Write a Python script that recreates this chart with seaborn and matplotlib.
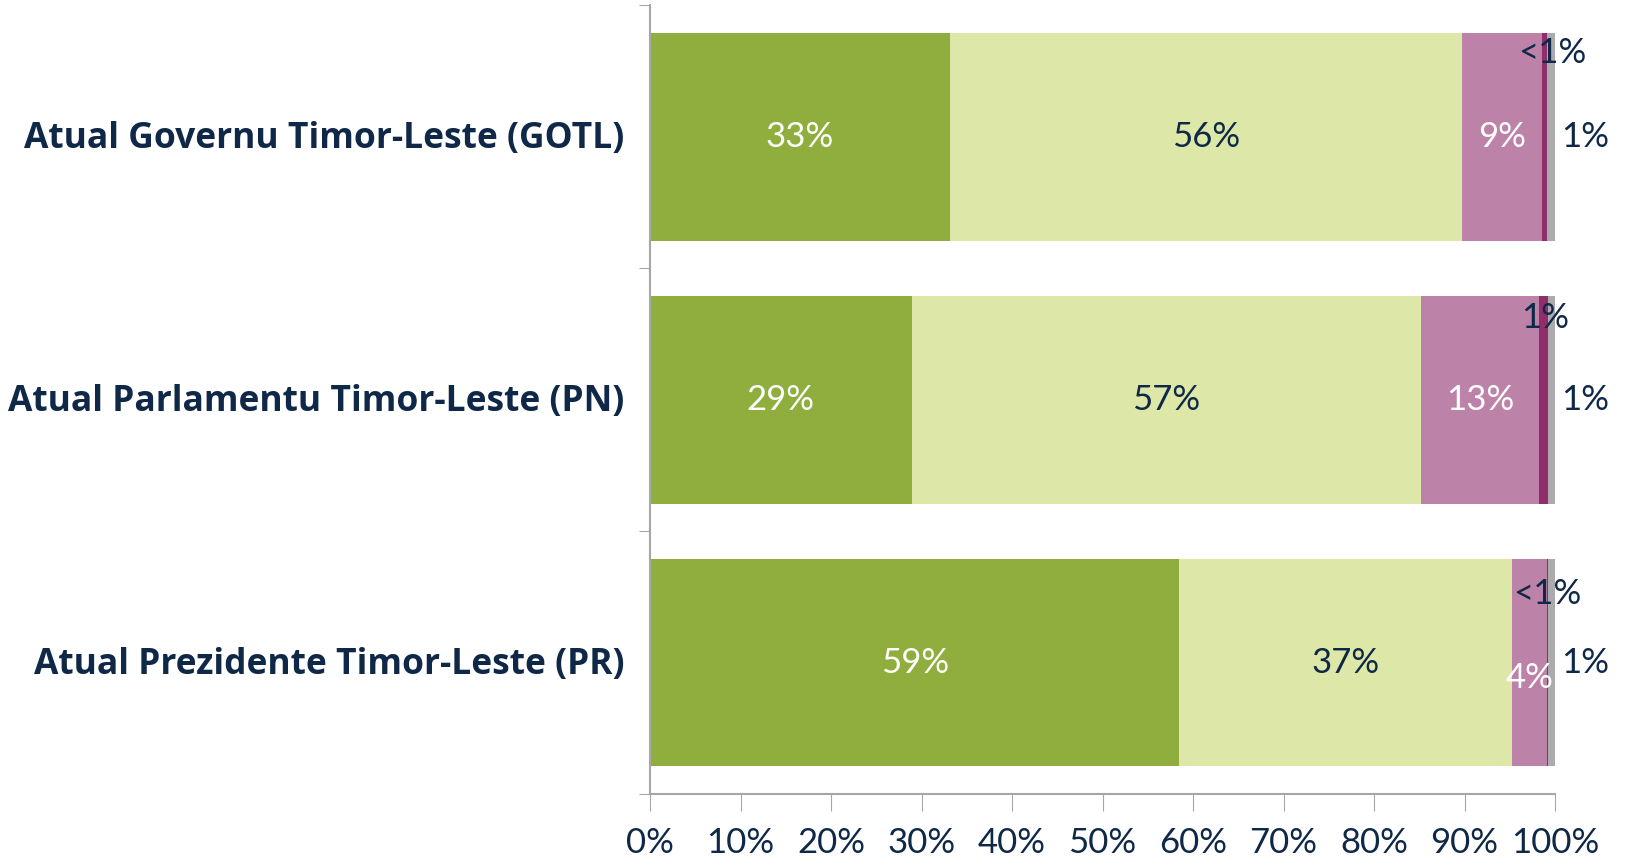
import numpy as np
import pandas as pd
import seaborn as sns
import matplotlib.pyplot as plt

# data (percent)
categories = ["Atual Governu Timor-Leste (GOTL)",
              "Atual Parlamentu Timor-Leste (PN)",
              "Atual Prezidente Timor-Leste (PR)"]
seg_names = ["s1", "s2", "s3", "s4", "s5"]
s1 = [33.1, 28.9, 58.5]
s2 = [56.6, 56.3, 36.7]
s3 = [8.9, 13.0, 3.9]
s4 = [0.5, 1.0, 0.1]
s5 = [0.9, 0.8, 0.9]

s1_labels = ["33%", "29%", "59%"]
s2_labels = ["56%", "57%", "37%"]
s3_labels = ["9%", "13%", "4%"]
s4_labels = ["<1%", "1%", "<1%"]
s5_labels = ["1%", "1%", "1%"]

colors = ["#8FAE3E", "#DDE8A8", "#BD82A8", "#8F2E6B", "#ABABAE"]
navy = "#0F2847"

df = pd.DataFrame({"cat": categories, "s1": s1, "s2": s2, "s3": s3, "s4": s4, "s5": s5})
cum = df[seg_names].cumsum(axis=1)

sns.set_style("white")
plt.rcParams["font.family"] = ["Lato", "DejaVu Sans"]

fig = plt.figure(figsize=(16.25, 8.59), dpi=100)
ax = fig.add_axes([0.4, 0.0757, 0.557, 0.918])

# draw cumulative totals from the widest down so each segment shows
for name, col in reversed(list(zip(seg_names, colors))):
    sns.barplot(x=cum[name], y=df["cat"], color=col, width=0.79,
                saturation=1, orient="h", ax=ax, edgecolor="none")

ax.set_xlim(0, 100)
ax.set_ylim(2.5, -0.5)
ax.set_xlabel("")
ax.set_ylabel("")

fs = 25

# labels inside the bigger segments
starts = cum.shift(axis=1, fill_value=0)
for i in range(len(categories)):
    mid = starts.loc[i, "s1"] + s1[i] / 2
    ax.text(mid, i, s1_labels[i], ha="center", va="center", color="white", fontsize=fs)
    mid = starts.loc[i, "s2"] + s2[i] / 2
    ax.text(mid, i, s2_labels[i], ha="center", va="center", color=navy, fontsize=fs)
    mid = starts.loc[i, "s3"] + s3[i] / 2
    dy = 0.06 if i == 2 else 0
    ax.text(mid, i + dy, s3_labels[i], ha="center", va="center", color="white", fontsize=fs)

# small segments: label above bar end and to the right
s4_x = [99.7, 98.9, 99.1]
s4_dy = [-0.32, -0.31, -0.26]
for i in range(len(categories)):
    ax.text(s4_x[i], i + s4_dy[i], s4_labels[i], ha="center", va="center", color=navy, fontsize=fs)
    ax.text(103.3, i, s5_labels[i], ha="center", va="center", color=navy, fontsize=fs)

ax.set_xticks(np.arange(0, 101, 10))
ax.set_xticklabels([f"{v}%" for v in range(0, 101, 10)], fontsize=fs, color=navy)
ax.set_yticks([-0.5, 0.5, 1.5, 2.5])
ax.set_yticklabels([])
ax.tick_params(axis="x", direction="out", length=12, color="#A6A6A6", pad=12, bottom=True)
ax.tick_params(axis="y", direction="out", length=8, color="#A6A6A6", left=True)

for i, c in enumerate(categories):
    ax.text(-2.8, i + 0.01, c, ha="right", va="center", color=navy, fontsize=25.5,
            fontweight="bold", family=["Open Sans", "DejaVu Sans"])

for side in ["top", "right"]:
    ax.spines[side].set_visible(False)
for side in ["left", "bottom"]:
    ax.spines[side].set_color("#A6A6A6")
    ax.spines[side].set_linewidth(1.5)

fig.savefig("out.png", dpi=100)
